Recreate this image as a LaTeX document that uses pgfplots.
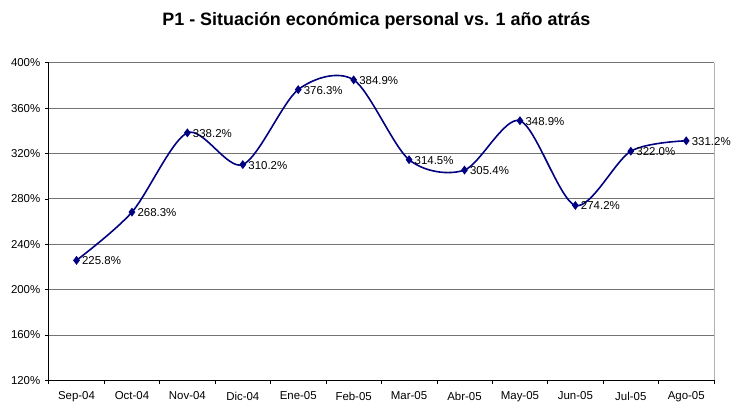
\documentclass[border=0pt]{standalone}
\usepackage{pgfplots}
\pgfplotsset{compat=1.18}
\usepackage{pgfplotstable}
\usepackage{fontspec}
\setmainfont{Liberation Sans}
\definecolor{navy}{HTML}{000080}
\pgfplotstableread{
x y lab
0 225.8 225.8\%
1 268.3 268.3\%
2 338.2 338.2\%
3 310.2 310.2\%
4 376.3 376.3\%
5 384.9 384.9\%
6 314.5 314.5\%
7 305.4 305.4\%
8 348.9 348.9\%
9 274.2 274.2\%
10 322.0 322.0\%
11 331.2 331.2\%
}\datatable
\begin{document}
\begin{tikzpicture}[x=1pt,y=1pt]
\begin{axis}[
  name=ax,
  scale only axis,
  width=668pt, height=319pt,
  xmin=-0.5, xmax=11.5,
  ymin=120, ymax=400,
  axis x line*=bottom, axis y line*=left,
  axis line style={black, line width=0.8pt},
  ytick={120,160,...,400},
  yticklabel={\pgfmathprintnumber{\tick}\%},
  xtick={0,...,11},
  xticklabels={Sep-04,Oct-04,Nov-04,Dic-04,Ene-05,Feb-05,Mar-05,Abr-05,May-05,Jun-05,Jul-05,Ago-05},
  minor xtick={-0.5,0.5,...,11.5},
  major x tick style={draw=none},
  tick style={black, line width=0.6pt},
  tick align=outside,
  major tick length=4pt, minor tick length=4pt,
  ymajorgrids,
  major grid style={gray!90!black, line width=0.8pt},
  tick label style={font=\fontsize{11.5}{13}\selectfont},
  /pgf/number format/assume math mode=true,
  x tick label style={yshift=-4pt},
  y tick label style={xshift=-1pt},
  clip=false,
]
\draw[gray!60, line width=0.8pt] (rel axis cs:1,0) -- (rel axis cs:1,1);
\addplot[navy, line width=1.6pt, smooth, tension=0.5,
  mark=diamond*, mark size=3.2pt, mark options={solid, fill=navy},
  nodes near coords, point meta=explicit symbolic,
  every node near coord/.style={anchor=west, xshift=1.5pt, yshift=-0.5pt, text=black, font=\fontsize{11.5}{13}\selectfont}
] table[x=x, y=y, meta=lab] {\datatable};
\node[font=\bfseries\fontsize{18}{21}\selectfont, anchor=base] at ([xshift=-5pt, yshift=37pt]rel axis cs:0.5,1) {P1 - Situación económica personal vs. 1 año atrás};
\coordinate (bl) at (rel axis cs:0,0);
\coordinate (tr) at (rel axis cs:1,1);
\end{axis}
\path ([xshift=-49pt, yshift=-23pt]bl) rectangle ([xshift=17pt, yshift=63pt]tr);
\end{tikzpicture}
\end{document}
